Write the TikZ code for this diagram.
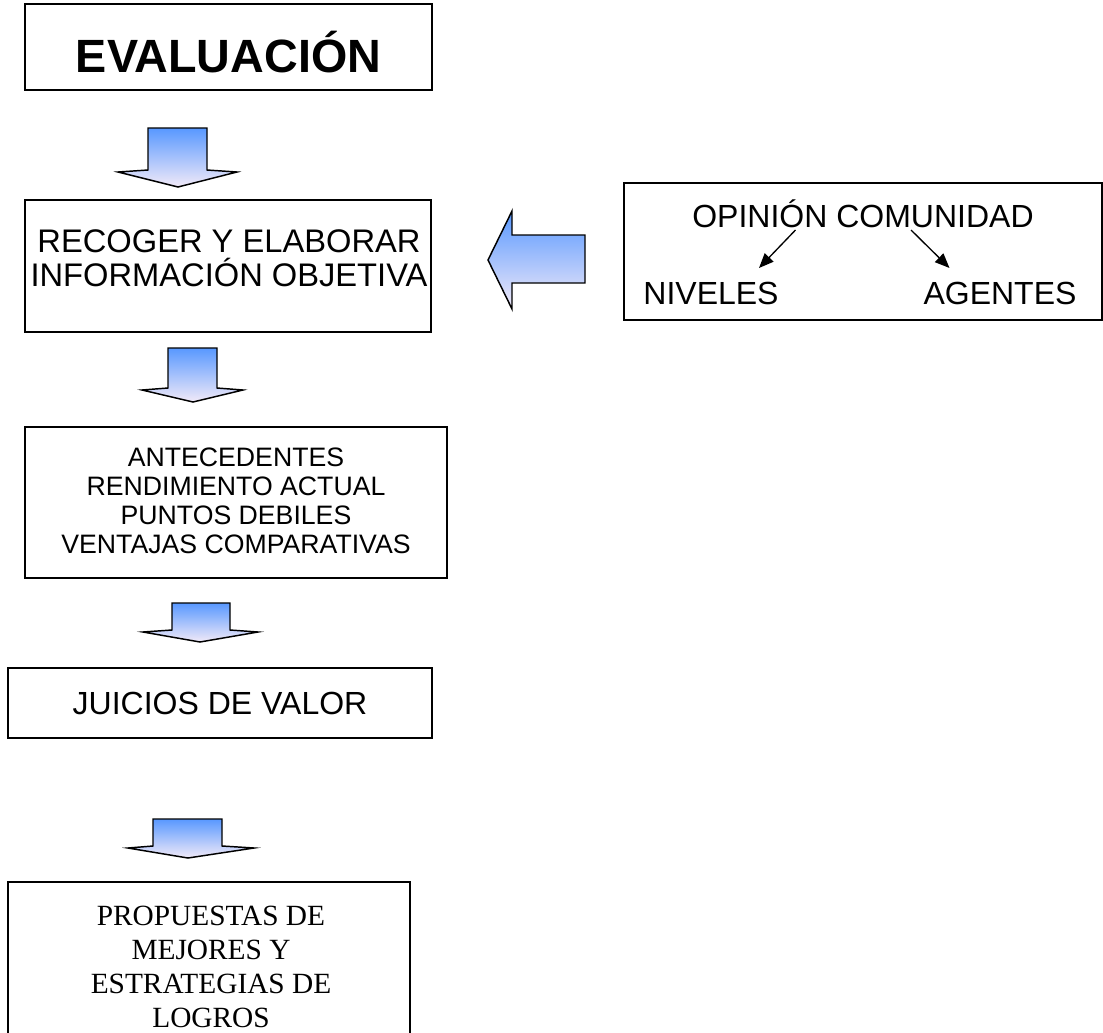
\documentclass[tikz,border=0pt]{standalone}
\usepackage{fontspec}
\setmainfont{Liberation Sans}
\newfontfamily\timesfont{Liberation Serif}
\usetikzlibrary{arrows.meta,positioning,calc}
\definecolor{arrowtop}{RGB}{88,152,255}
\definecolor{arrowbot}{RGB}{242,234,248}

\begin{document}
\begin{tikzpicture}[x=0.75pt,y=-0.75pt,
    box/.style={draw, line width=1.1pt, inner sep=0pt},
    txt/.style={inner sep=0pt, align=center},
    blockarrow/.style={draw, line width=1.1pt, line join=miter, top color=arrowtop, bottom color=arrowbot},
    tip/.style={line width=1pt, -{Triangle[length=11pt,width=9pt]}}]
    \useasboundingbox (0,0) rectangle (1103,1032);

    % Boxes
    \node[box, minimum width={407*0.75pt}, minimum height={86*0.75pt}] (evalbox) at (228.5,47) {};
    \node[txt, anchor=base, font=\bfseries\fontsize{35}{38}\selectfont] (eval) at (228.5,72) {EVALUACIÓN};

    \node[box, minimum width={406*0.75pt}, minimum height={132*0.75pt}] (recbox) at (228,266) {};
    \node[txt, anchor=base, font=\fontsize{24.5}{25.5}\selectfont] (rec) at (229,286) {RECOGER Y ELABORAR\\INFORMACIÓN OBJETIVA};

    \node[box, minimum width={422*0.75pt}, minimum height={151*0.75pt}] (antbox) at (236,502.5) {};
    \node[txt, anchor=base, font=\fontsize{20}{21.75}\selectfont] (ant) at (236,553)
        {ANTECEDENTES\\RENDIMIENTO ACTUAL\\PUNTOS DEBILES\\VENTAJAS COMPARATIVAS};

    \node[box, minimum width={424*0.75pt}, minimum height={70*0.75pt}] (juibox) at (220,703) {};
    \node[txt, anchor=base, font=\fontsize{24}{26}\selectfont] (jui) at (220,714) {JUICIOS DE VALOR};

    \node[box, minimum width={402*0.75pt}, minimum height={156*0.75pt}] (probox) at (209,960) {};
    \node[txt, anchor=base, font=\timesfont\fontsize{22}{25.5}\selectfont] (pro) at (211,1027)
        {PROPUESTAS DE\\MEJORES Y\\ESTRATEGIAS DE\\LOGROS};

    \node[box, minimum width={478*0.75pt}, minimum height={137*0.75pt}] (opbox) at (863,251.5) {};
    \node[txt, anchor=base, font=\fontsize{24}{26}\selectfont] (op) at (863,227) {OPINIÓN COMUNIDAD};
    \node[txt, anchor=base, font=\fontsize{24}{26}\selectfont] (niv) at (711,304) {NIVELES};
    \node[txt, anchor=base, font=\fontsize{24}{26}\selectfont] (age) at (1000,304) {AGENTES};

    % small arrows
    \coordinate (c1) at (795.5,230);
    \coordinate (c2) at (759,268);
    \coordinate (c3) at (911,230);
    \coordinate (c4) at (949.5,268);
    \draw[tip] (c1) -- (c2);
    \draw[tip] (c3) -- (c4);

    % Block arrows
    \path[blockarrow] (148,128) -- (207,128) -- (207,170) -- (237,172) -- (178,187) -- (118,172) -- (148,170) -- cycle;
    \path[blockarrow] (168,348) -- (217,348) -- (217,388) -- (243,390) -- (193,402) -- (142,390) -- (168,388) -- cycle;
    \path[blockarrow] (172,603) -- (230,603) -- (230,630) -- (258,632) -- (200,642) -- (143,632) -- (172,630) -- cycle;
    \path[blockarrow] (153,819) -- (222,819) -- (222,846) -- (254,848) -- (188,858) -- (128,848) -- (153,846) -- cycle;
    \path[blockarrow] (585,235) -- (512,235) -- (512,211) -- (488,260) -- (512,309) -- (512,283) -- (585,283) -- cycle;
\end{tikzpicture}
\end{document}
